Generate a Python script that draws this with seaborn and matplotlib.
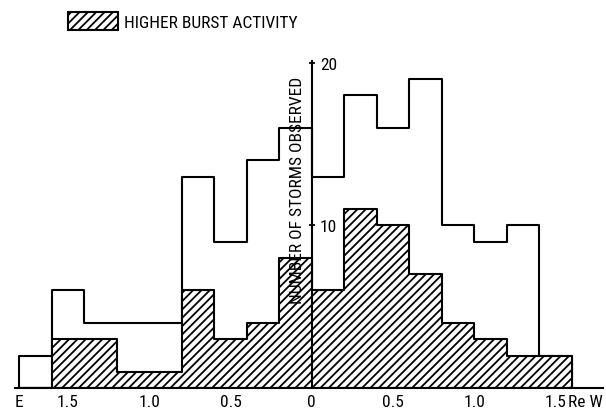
import numpy as np
import matplotlib
matplotlib.use("Agg")
import matplotlib.pyplot as plt
from matplotlib import font_manager
from matplotlib.patches import Patch
import seaborn as sns

# ------------------------------------------------------------
# data (bins of 0.2 Re, east negative)
# ------------------------------------------------------------
bin_edges = [-1.8, -1.6, -1.4, -1.2, -1.0, -0.8, -0.6, -0.4, -0.2,
             0.0, 0.2, 0.4, 0.6, 0.8, 1.0, 1.2, 1.4, 1.6]

all_storms = [2, 6, 4, 4, 4, 13, 9, 14, 16,
              13, 18, 16, 19, 10, 9, 10, 2]

higher_burst = [0, 3, 3, 1, 1, 6, 3, 4, 8,
                6, 11, 10, 7, 4, 3, 2, 2]

x_ticks = [-1.5, -1.0, -0.5, 0.0, 0.5, 1.0, 1.5]
x_tick_labels = ["1.5", "1.0", "0.5", "0", "0.5", "1.0", "1.5"]
y_ticks = [10, 20]

legend_label = "HIGHER BURST ACTIVITY"
y_label = "NUMBER OF STORMS OBSERVED"

bin_centers = (np.array(bin_edges[:-1]) + np.array(bin_edges[1:])) / 2

# ------------------------------------------------------------
# style - the scan uses a condensed sans, pick the narrowest we have
# ------------------------------------------------------------
sns.set_style("white")

installed = {f.name for f in font_manager.fontManager.ttflist}
if "Roboto Condensed" in installed:
    font_name, scale = "Roboto Condensed", 1.0
elif "Liberation Sans Narrow" in installed:
    font_name, scale = "Liberation Sans Narrow", 0.95
else:
    font_name, scale = "Liberation Sans", 0.8

plt.rcParams["font.family"] = [font_name, "DejaVu Sans"]
plt.rcParams["hatch.linewidth"] = 1.3
plt.rcParams["hatch.color"] = "black"
plt.rcParams["text.color"] = "black"
plt.rcParams["xtick.color"] = "black"
plt.rcParams["ytick.color"] = "black"

tick_size = 12.5 * scale
legend_size = 12.5 * scale
ylabel_size = 12.5 * scale

fig = plt.figure(figsize=(6.06, 4.10), dpi=100)
ax = fig.add_axes([0.0248, 0.0512, 0.9703, 0.7976])

# total (white) histogram
sns.histplot(
    x=bin_centers,
    weights=all_storms,
    bins=bin_edges,
    element="step",
    fill=True,
    facecolor="white",
    edgecolor="black",
    linewidth=1.5,
    alpha=1,
    ax=ax
)

# higher burst activity (hatched)
sns.histplot(
    x=bin_centers,
    weights=higher_burst,
    bins=bin_edges,
    element="step",
    fill=True,
    facecolor="white",
    edgecolor="black",
    hatch="////",
    linewidth=1.5,
    alpha=1,
    ax=ax
)

ax.set_xlim(-1.826, 1.793)
ax.set_ylim(0, 20.12)
ax.set_xlabel("")
ax.set_ylabel("")
ax.set_axisbelow(False)

# axes: bottom line + vertical axis through zero
for side in ["top", "left"]:
    ax.spines[side].set_visible(False)
ax.spines["bottom"].set_linewidth(1.5)
ax.spines["right"].set_position(("data", 0))
ax.spines["right"].set_linewidth(1.5)
ax.spines["bottom"].set_color("black")
ax.spines["right"].set_color("black")

ax.yaxis.tick_right()
ax.set_yticks(y_ticks)
ax.set_yticklabels([str(v) for v in y_ticks])
ax.tick_params(axis="y", direction="inout", length=5, width=1.3,
               pad=3.5, labelsize=tick_size)

ax.set_xticks(x_ticks)
ax.set_xticklabels(x_tick_labels)
ax.tick_params(axis="x", direction="in", length=3, width=1.2,
               pad=4, labelsize=tick_size)

ax.annotate("E", xy=(-1.8, 0), xycoords=("data", "axes fraction"),
            xytext=(0, -4), textcoords="offset points",
            ha="center", va="top", fontsize=tick_size)
ax.annotate("Re W", xy=(1.58, 0), xycoords=("data", "axes fraction"),
            xytext=(0, -4), textcoords="offset points",
            ha="left", va="top", fontsize=tick_size)

ax.text(-0.087, 12.2, y_label, rotation=90, ha="center", va="center",
        fontsize=ylabel_size, zorder=5)

legend_patch = Patch(facecolor="white", edgecolor="black",
                     hatch="////", linewidth=1.5)
fig.legend(
    handles=[legend_patch],
    labels=[legend_label],
    loc="upper left",
    bbox_to_anchor=(0.112, 0.969),
    frameon=False,
    borderpad=0,
    borderaxespad=0,
    handlelength=50 / (legend_size * 100 / 72),
    handleheight=22 / (legend_size * 100 / 72),
    handletextpad=0.35,
    fontsize=legend_size
)

fig.savefig("out.png", dpi=100, facecolor="white")
